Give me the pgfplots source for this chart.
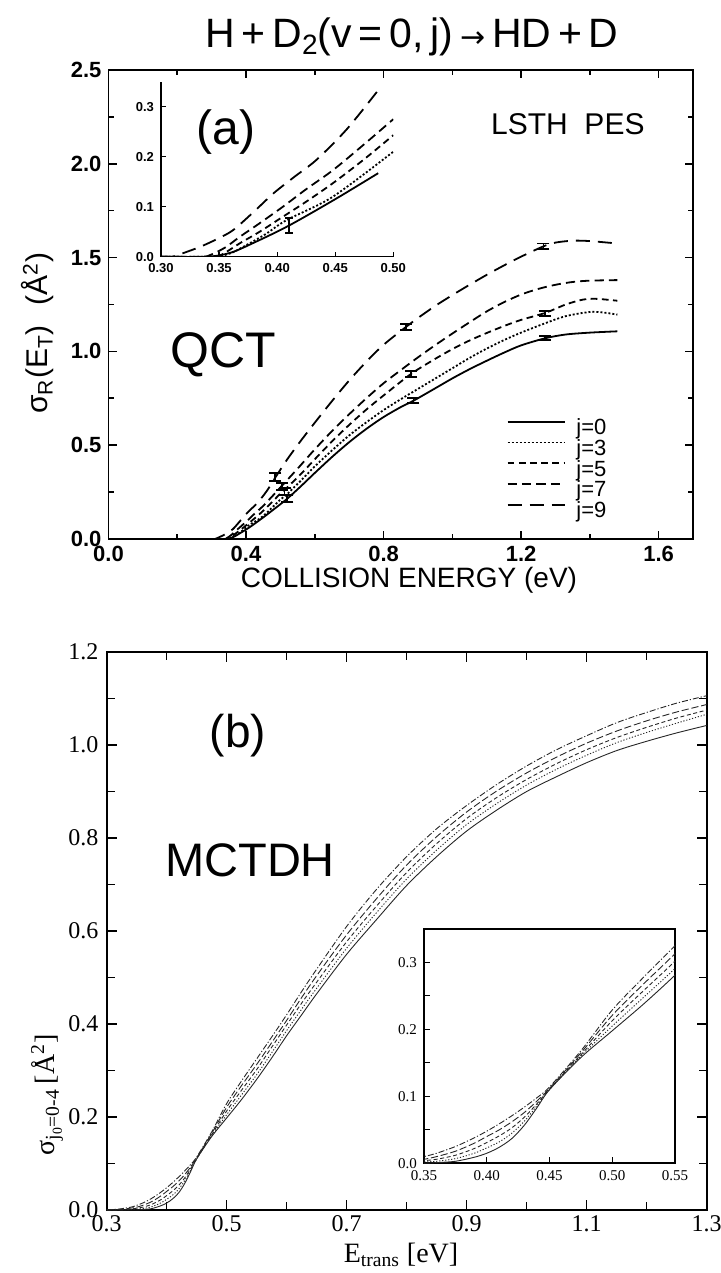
\documentclass[border=0pt]{standalone}
\usepackage{fontspec}
\setmainfont{Liberation Serif}
\setsansfont{Liberation Sans}
\newfontfamily\djv{DejaVu Sans}
\usepackage{pgfplots}
\pgfplotsset{compat=1.18}
\usepackage{pgfplotstable}

% ---------- panel (a): QCT ----------
\pgfplotstableread{
E s
0.30 0
0.34 0
0.36 0.008
0.38 0.028
0.41 0.062
0.45 0.115
0.487 0.167
0.52 0.215
0.56 0.282
0.60 0.352
0.65 0.437
0.70 0.516
0.75 0.587
0.80 0.650
0.85 0.703
0.887 0.737
0.95 0.803
1.00 0.856
1.05 0.905
1.10 0.950
1.15 0.993
1.20 1.032
1.27 1.070
1.33 1.090
1.40 1.100
1.48 1.107
}\aJzero
\pgfplotstableread{
E s
0.30 0
0.345 0
0.36 0.007
0.371 0.020
0.39 0.045
0.408 0.073
0.448 0.120
0.50 0.210
0.52 0.240
0.56 0.312
0.60 0.387
0.65 0.472
0.70 0.552
0.75 0.622
0.80 0.687
0.85 0.745
0.90 0.800
0.95 0.855
1.00 0.910
1.05 0.965
1.10 1.015
1.15 1.060
1.20 1.100
1.27 1.150
1.33 1.188
1.40 1.210
1.44 1.207
1.48 1.196
}\aJthree
\pgfplotstableread{
E s
0.30 0
0.345 0
0.355 0.008
0.368 0.027
0.385 0.050
0.405 0.080
0.425 0.110
0.448 0.147
0.475 0.195
0.50 0.243
0.51 0.258
0.56 0.347
0.60 0.425
0.65 0.520
0.70 0.608
0.75 0.690
0.80 0.765
0.88 0.880
0.95 0.960
1.00 1.012
1.05 1.058
1.10 1.098
1.15 1.135
1.20 1.168
1.27 1.205
1.33 1.250
1.38 1.276
1.42 1.280
1.48 1.270
}\aJfive
\pgfplotstableread{
E s
0.30 0
0.335 0
0.342 0.003
0.355 0.018
0.368 0.040
0.385 0.067
0.405 0.100
0.425 0.135
0.448 0.173
0.475 0.225
0.50 0.275
0.55 0.375
0.60 0.478
0.65 0.575
0.70 0.665
0.75 0.750
0.80 0.830
0.85 0.900
0.90 0.968
0.95 1.033
1.00 1.095
1.05 1.155
1.10 1.213
1.15 1.262
1.20 1.303
1.25 1.333
1.30 1.355
1.35 1.370
1.40 1.377
1.48 1.380
}\aJseven
\pgfplotstableread{
E s
0.30 0
0.31 0
0.319 0.007
0.334 0.020
0.348 0.035
0.362 0.053
0.38 0.090
0.397 0.127
0.415 0.160
0.434 0.194
0.46 0.255
0.486 0.330
0.52 0.425
0.56 0.525
0.60 0.620
0.65 0.735
0.70 0.845
0.75 0.945
0.80 1.035
0.865 1.130
0.90 1.178
0.95 1.242
1.00 1.300
1.05 1.355
1.10 1.408
1.15 1.458
1.20 1.505
1.265 1.560
1.30 1.580
1.35 1.590
1.40 1.588
1.48 1.575
}\aJnine

% ---------- panel (b): MCTDH ----------
\pgfplotstableread{
E j0 j1 j2 j3 j4
0.30 0 0 0 0 0
0.32 0 0 0 0.001 0.002
0.34 0 0.001 0.002 0.004 0.006
0.35 0 0.002 0.004 0.006 0.010
0.36 0.001 0.003 0.006 0.010 0.015
0.375 0.003 0.007 0.012 0.018 0.025
0.39 0.009 0.015 0.022 0.030 0.038
0.40 0.015 0.023 0.031 0.040 0.048
0.41 0.024 0.032 0.041 0.050 0.059
0.42 0.037 0.045 0.053 0.062 0.071
0.43 0.057 0.063 0.069 0.076 0.084
0.44 0.083 0.086 0.089 0.093 0.098
0.45 0.110 0.110 0.111 0.112 0.114
0.475 0.158 0.160 0.162 0.165 0.168
0.50 0.198 0.205 0.213 0.221 0.229
0.525 0.238 0.248 0.258 0.268 0.278
0.55 0.281 0.291 0.302 0.313 0.325
0.575 0.327 0.338 0.350 0.360 0.372
0.60 0.375 0.386 0.398 0.408 0.420
0.625 0.420 0.432 0.445 0.457 0.470
0.65 0.465 0.477 0.490 0.504 0.518
0.70 0.550 0.563 0.577 0.592 0.610
0.75 0.625 0.640 0.654 0.670 0.690
0.80 0.698 0.712 0.726 0.742 0.760
0.85 0.760 0.774 0.788 0.803 0.820
0.90 0.815 0.829 0.842 0.856 0.870
0.95 0.860 0.874 0.887 0.901 0.915
1.00 0.900 0.914 0.926 0.940 0.955
1.05 0.932 0.948 0.960 0.974 0.990
1.10 0.962 0.978 0.990 1.004 1.020
1.15 0.988 1.005 1.016 1.030 1.048
1.20 1.008 1.027 1.038 1.052 1.070
1.25 1.026 1.047 1.058 1.071 1.090
1.30 1.042 1.066 1.075 1.087 1.106
}\bdata

\tikzset{
  sA0/.style={black, line width=0.9pt},
  sA3/.style={black, line width=0.9pt, dash pattern=on 1pt off 1pt},
  sA5/.style={black, line width=0.9pt, dash pattern=on 3.4pt off 2.2pt},
  sA7/.style={black, line width=0.9pt, dash pattern=on 4.6pt off 2.6pt},
  sA9/.style={black, line width=0.9pt, dash pattern=on 7pt off 4pt},
  sB0/.style={black!85, line width=0.45pt},
  sB1/.style={black!85, line width=0.45pt, dash pattern=on 0.6pt off 0.9pt},
  sB2/.style={black!85, line width=0.45pt, dash pattern=on 2pt off 1.3pt},
  sB3/.style={black!85, line width=0.45pt, dash pattern=on 3.6pt off 1.4pt},
  sB4/.style={black!85, line width=0.45pt, dash pattern=on 3pt off 1pt on 0.6pt off 1pt},
  ebar/.style={black, line width=0.9pt, mark=-, mark size=3pt, mark options={solid, line width=0.9pt}},
}

\begin{document}
\begin{tikzpicture}
\useasboundingbox (0,0) rectangle (360.5pt,636.5pt);

% title
\node[font=\sffamily\fontsize{20.5}{20.5}\selectfont] at (206pt,618pt)
  {H\,+\,D\raisebox{-0.3ex}{\fontsize{14}{14}\selectfont 2}(v\,=\,0,\,j)\,{\djv\fontsize{15}{15}\selectfont →}\,HD\,+\,D};

% ================= (a) main axis =================
\begin{axis}[
  at={(54.25pt,367pt)}, anchor=south west, scale only axis,
  width=292.25pt, height=234.5pt,
  xmin=0, xmax=1.7, ymin=0, ymax=2.5,
  xtick={0,0.4,0.8,1.2,1.6}, minor x tick num=1,
  ytick={0,0.5,1,1.5,2,2.5}, minor y tick num=1,
  tick align=inside, major tick length=4pt, minor tick length=2.5pt,
  every tick/.style={black, line width=0.8pt},
  axis line style={line width=0.9pt},
  /pgf/number format/assume math mode=true,
  tick label style={font=\sffamily\bfseries\fontsize{11}{11}\selectfont},
  xticklabel style={/pgf/number format/.cd, fixed, fixed zerofill, precision=1},
  yticklabel style={/pgf/number format/.cd, fixed, fixed zerofill, precision=1},
  legend style={draw=none, fill=none, inner sep=0pt, outer sep=0pt,
    at={(axis cs:1.158,0.641)}, anchor=north west,
    font=\sffamily\fontsize{11}{11}\selectfont, row sep=0pt,
    nodes={inner sep=0pt, text height=8pt, text depth=2.35pt}},
  legend cell align=left,
  legend image code/.code={\draw[#1] (0pt,3.6pt) -- (28.5pt,3.6pt); \path (34pt,0pt);},
]
\addplot[sA0, smooth] table[x=E, y=s] {\aJzero};
\addlegendentry{j=0}
\addplot[sA3, smooth] table[x=E, y=s] {\aJthree};
\addlegendentry{j=3}
\addplot[sA5, smooth] table[x=E, y=s] {\aJfive};
\addlegendentry{j=5}
\addplot[sA7, smooth] table[x=E, y=s] {\aJseven};
\addlegendentry{j=7}
\addplot[sA9, smooth] table[x=E, y=s] {\aJnine};
\addlegendentry{j=9}
% error bars
\addplot[ebar, forget plot] coordinates {(0.485,0.31) (0.485,0.35)};
\addplot[ebar, forget plot] coordinates {(0.505,0.262) (0.505,0.298)};
\addplot[ebar, forget plot] coordinates {(0.512,0.235) (0.512,0.272)};
\addplot[ebar, forget plot] coordinates {(0.52,0.197) (0.52,0.233)};
\addplot[ebar, forget plot] coordinates {(0.865,1.115) (0.865,1.145)};
\addplot[ebar, forget plot] coordinates {(0.88,0.865) (0.88,0.895)};
\addplot[ebar, forget plot] coordinates {(0.887,0.724) (0.887,0.750)};
\addplot[ebar, forget plot] coordinates {(1.265,1.545) (1.265,1.575)};
\addplot[ebar, forget plot] coordinates {(1.27,1.188) (1.27,1.214)};
\addplot[ebar, forget plot] coordinates {(1.27,1.060) (1.27,1.080)};
\node[font=\sffamily\fontsize{24}{24}\selectfont] at (axis cs:0.342,2.17) {(a)};
\node[font=\sffamily\fontsize{15}{15}\selectfont] at (axis cs:1.336,2.21) {LSTH\ \ PES};
\node[font=\sffamily\fontsize{25}{25}\selectfont] at (axis cs:0.333,0.98) {QCT};
\end{axis}

% (a) axis labels
\node[font=\sffamily\fontsize{14}{14}\selectfont] at (204.5pt,346.5pt) {COLLISION ENERGY (eV)};
\node[rotate=90, font=\sffamily\fontsize{15}{15}\selectfont] at (19pt,470pt)
  {σ\textsubscript{R}(E\textsubscript{T})\hspace{10pt}(Å\textsuperscript{2})};

% ================= (a) inset =================
\begin{axis}[
  at={(80.5pt,508.15pt)}, anchor=south west, scale only axis,
  width=116.15pt, height=87.5pt,
  xmin=0.30, xmax=0.50, ymin=0, ymax=0.35,
  axis lines*=left,
  xtick={0.30,0.35,0.40,0.45,0.50}, ytick={0,0.1,0.2,0.3},
  tick align=inside, major tick length=2.5pt,
  every tick/.style={black, line width=0.6pt},
  axis line style={line width=0.7pt},
  /pgf/number format/assume math mode=true,
  tick label style={font=\sffamily\bfseries\fontsize{6.5}{6.5}\selectfont},
  xticklabel style={/pgf/number format/.cd, fixed, fixed zerofill, precision=2},
  yticklabel style={/pgf/number format/.cd, fixed, fixed zerofill, precision=1},
  clip=true,
]
\addplot[sA0, smooth, restrict x to domain=0.30:0.488] table[x=E, y=s] {\aJzero};
\addplot[sA3, smooth, restrict x to domain=0.30:0.50] table[x=E, y=s] {\aJthree};
\addplot[sA5, smooth, restrict x to domain=0.30:0.50] table[x=E, y=s] {\aJfive};
\addplot[sA7, smooth, restrict x to domain=0.30:0.50] table[x=E, y=s] {\aJseven};
\addplot[sA9, smooth, restrict x to domain=0.30:0.487] table[x=E, y=s] {\aJnine};
\addplot[ebar, mark size=2pt, forget plot] coordinates {(0.41,0.048) (0.41,0.078)};
\end{axis}

% ================= (b) main axis =================
\begin{axis}[
  at={(53.35pt,31.5pt)}, anchor=south west, scale only axis,
  width=300pt, height=279pt,
  xmin=0.3, xmax=1.3, ymin=0, ymax=1.2,
  xtick={0.3,0.5,0.7,0.9,1.1,1.3}, minor x tick num=1,
  ytick={0,0.2,0.4,0.6,0.8,1.0,1.2}, minor y tick num=1,
  tick align=inside, major tick length=5pt, minor tick length=4pt,
  every tick/.style={black, line width=0.6pt},
  axis line style={line width=0.8pt},
  /pgf/number format/assume math mode=true,
  tick label style={font=\fontsize{12}{12}\selectfont},
  xticklabel style={inner sep=1.5pt, yshift=-1pt, /pgf/number format/.cd, fixed, fixed zerofill, precision=1},
  yticklabel style={inner sep=1.5pt, xshift=-2.5pt, /pgf/number format/.cd, fixed, fixed zerofill, precision=1},
]
\addplot[sB0, smooth] table[x=E, y=j0] {\bdata};
\addplot[sB1, smooth] table[x=E, y=j1] {\bdata};
\addplot[sB2, smooth] table[x=E, y=j2] {\bdata};
\addplot[sB3, smooth] table[x=E, y=j3] {\bdata};
\addplot[sB4, smooth] table[x=E, y=j4] {\bdata};
\node[font=\sffamily\fontsize{23}{23}\selectfont] at (axis cs:0.519,1.02) {(b)};
\node[font=\sffamily\fontsize{23.5}{23.5}\selectfont] at (axis cs:0.539,0.753) {MCTDH};
\end{axis}

% (b) axis labels
\node[font=\fontsize{14}{14}\selectfont] at (200.5pt,9pt) {E\textsubscript{trans} [eV]};
\node[rotate=90, font=\fontsize{14}{14}\selectfont] at (23.5pt,89pt)
  {σ\textsubscript{j\textsubscript{0}=0-4}\,[Å\textsuperscript{2}]};

% ================= (b) inset =================
\begin{axis}[
  at={(212pt,54.85pt)}, anchor=south west, scale only axis,
  width=125.5pt, height=117.15pt,
  xmin=0.35, xmax=0.55, ymin=0, ymax=0.35,
  xtick={0.35,0.40,0.45,0.50,0.55}, ytick={0,0.1,0.2,0.3}, minor y tick num=1,
  xtick pos=left, ytick pos=left,
  tick align=inside, major tick length=3pt, minor tick length=3pt,
  every tick/.style={black, line width=0.5pt},
  axis line style={line width=0.9pt},
  /pgf/number format/assume math mode=true,
  tick label style={font=\fontsize{7.5}{7.5}\selectfont},
  xticklabel style={/pgf/number format/.cd, fixed, fixed zerofill, precision=2},
  yticklabel style={/pgf/number format/.cd, fixed, fixed zerofill, precision=1},
]
\addplot[sB0, smooth] table[x=E, y=j0] {\bdata};
\addplot[sB1, smooth] table[x=E, y=j1] {\bdata};
\addplot[sB2, smooth] table[x=E, y=j2] {\bdata};
\addplot[sB3, smooth] table[x=E, y=j3] {\bdata};
\addplot[sB4, smooth] table[x=E, y=j4] {\bdata};
\end{axis}
\end{tikzpicture}
\end{document}
